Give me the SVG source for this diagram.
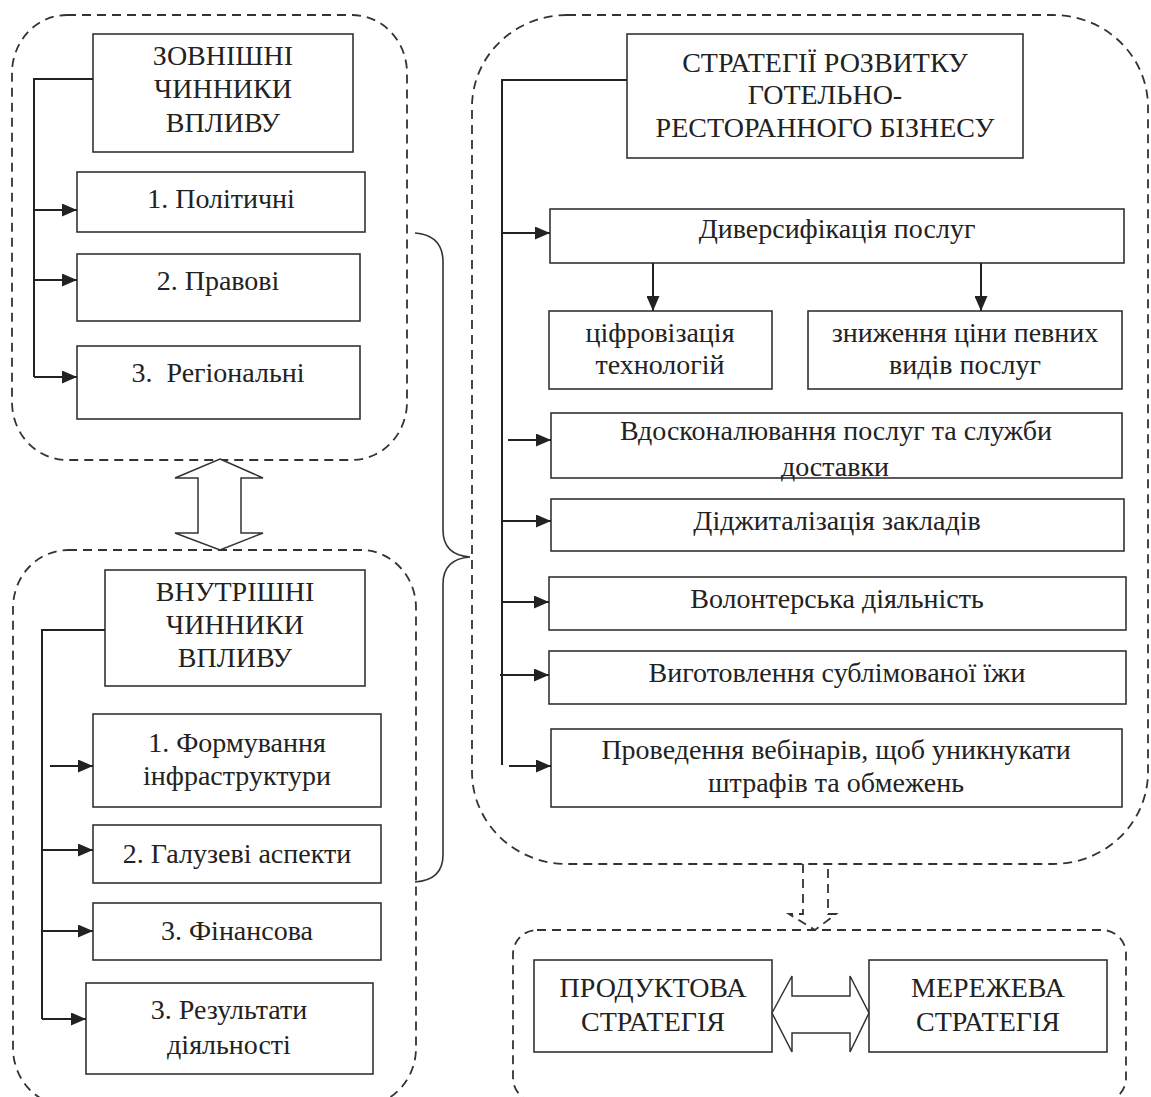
<svg xmlns="http://www.w3.org/2000/svg" width="1151" height="1097" viewBox="0 0 1151 1097">
<style>
  .box { fill: #fff; stroke: #333; stroke-width: 1.6; }
  .dash { fill: none; stroke: #333; stroke-width: 1.8; stroke-dasharray: 9 6; }
  .line { fill: none; stroke: #222; stroke-width: 2; }
  .hollow { fill: #fff; stroke: #333; stroke-width: 1.5; }
  text { font-family: "Liberation Serif", "Times New Roman", serif; font-size: 28px; fill: #222; text-anchor: middle; }
</style>
<defs>
  <marker id="ah" markerUnits="userSpaceOnUse" markerWidth="15" markerHeight="13" refX="15" refY="6.5" orient="auto">
    <path d="M0,0 L15,6.5 L0,13 Z" fill="#222"/>
  </marker>
</defs>
<rect width="1151" height="1097" fill="#fff"/>

<!-- containers -->
<g id="containers">
  <rect class="dash" x="12" y="15" width="395" height="445" rx="55" ry="58"/>
  <rect class="dash" x="13" y="550" width="403" height="556" rx="55" ry="58"/>
  <rect class="dash" x="472" y="15" width="676" height="849" rx="95" ry="92"/>
  <rect class="dash" x="513" y="930" width="613" height="172" rx="24" ry="24"/>
</g>

<!-- left top group -->
<g id="external-title">
  <rect class="box" x="93" y="34" width="260" height="118"/>
  <text x="223" y="65">ЗОВНІШНІ</text>
  <text x="223" y="98">ЧИННИКИ</text>
  <text x="223" y="132">ВПЛИВУ</text>
</g>
<g id="ext-1">
  <rect class="box" x="77" y="172" width="288" height="60"/>
  <text x="221" y="208">1. Політичні</text>
</g>
<g id="ext-2">
  <rect class="box" x="77" y="254" width="283" height="67"/>
  <text x="218" y="290">2. Правові</text>
</g>
<g id="ext-3">
  <rect class="box" x="77" y="346" width="283" height="73"/>
  <text x="218" y="382" xml:space="preserve">3.  Регіональні</text>
</g>

<!-- left bottom group -->
<g id="internal-title">
  <rect class="box" x="105" y="570" width="260" height="116"/>
  <text x="235" y="601">ВНУТРІШНІ</text>
  <text x="235" y="634">ЧИННИКИ</text>
  <text x="235" y="667">ВПЛИВУ</text>
</g>
<g id="int-1">
  <rect class="box" x="93" y="714" width="288" height="93"/>
  <text x="237" y="752">1. Формування</text>
  <text x="237" y="785">інфраструктури</text>
</g>
<g id="int-2">
  <rect class="box" x="93" y="825" width="288" height="58"/>
  <text x="237" y="863">2. Галузеві аспекти</text>
</g>
<g id="int-3">
  <rect class="box" x="93" y="903" width="288" height="57"/>
  <text x="237" y="940">3. Фінансова</text>
</g>
<g id="int-4">
  <rect class="box" x="86" y="983" width="287" height="91"/>
  <text x="229" y="1019">3. Результати</text>
  <text x="229" y="1054">діяльності</text>
</g>

<!-- right group -->
<g id="strategy-title">
  <rect class="box" x="627" y="34" width="396" height="124"/>
  <text x="825" y="72">СТРАТЕГІЇ РОЗВИТКУ</text>
  <text x="825" y="104">ГОТЕЛЬНО-</text>
  <text x="825" y="137">РЕСТОРАННОГО БІЗНЕСУ</text>
</g>
<g id="diversification">
  <rect class="box" x="550" y="209" width="574" height="54"/>
  <text x="837" y="238">Диверсифікація послуг</text>
</g>
<g id="digitization">
  <rect class="box" x="549" y="311" width="223" height="78"/>
  <text x="660" y="342">ціфровізація</text>
  <text x="660" y="374">технологій</text>
</g>
<g id="price-reduction">
  <rect class="box" x="808" y="311" width="314" height="78"/>
  <text x="965" y="342">зниження ціни певних</text>
  <text x="965" y="374">видів послуг</text>
</g>
<g id="delivery">
  <rect class="box" x="551" y="413" width="571" height="65"/>
  <text x="836" y="440">Вдосконалювання послуг та служби</text>
  <text x="835" y="476">доставки</text>
</g>
<g id="digitalization">
  <rect class="box" x="551" y="499" width="573" height="52"/>
  <text x="837" y="530">Діджиталізація закладів</text>
</g>
<g id="volunteer">
  <rect class="box" x="549" y="577" width="577" height="53"/>
  <text x="837" y="608">Волонтерська діяльність</text>
</g>
<g id="food">
  <rect class="box" x="549" y="651" width="577" height="53"/>
  <text x="837" y="682">Виготовлення сублімованої їжи</text>
</g>
<g id="webinars">
  <rect class="box" x="551" y="729" width="571" height="78"/>
  <text x="836" y="759">Проведення вебінарів, щоб уникнукати</text>
  <text x="836" y="792">штрафів та обмежень</text>
</g>

<!-- bottom group -->
<g id="product-strategy">
  <rect class="box" x="534" y="960" width="238" height="92"/>
  <text x="653" y="997">ПРОДУКТОВА</text>
  <text x="653" y="1031">СТРАТЕГІЯ</text>
</g>
<g id="network-strategy">
  <rect class="box" x="869" y="960" width="238" height="92"/>
  <text x="988" y="997">МЕРЕЖЕВА</text>
  <text x="988" y="1031">СТРАТЕГІЯ</text>
</g>

<!-- connectors -->
<g id="connectors">
  <!-- external -->
  <polyline class="line" points="93,79 34,79 34,377"/>
  <line class="line" x1="34" y1="210" x2="77" y2="210" marker-end="url(#ah)"/>
  <line class="line" x1="34" y1="280" x2="77" y2="280" marker-end="url(#ah)"/>
  <line class="line" x1="34" y1="377" x2="77" y2="377" marker-end="url(#ah)"/>
  <!-- internal -->
  <polyline class="line" points="105,630 42,630 42,1019"/>
  <line class="line" x1="50" y1="766" x2="93" y2="766" marker-end="url(#ah)"/>
  <line class="line" x1="42" y1="850" x2="93" y2="850" marker-end="url(#ah)"/>
  <line class="line" x1="42" y1="931" x2="93" y2="931" marker-end="url(#ah)"/>
  <line class="line" x1="42" y1="1019" x2="86" y2="1019" marker-end="url(#ah)"/>
  <!-- strategies -->
  <polyline class="line" points="627,80 502,80 502,765"/>
  <line class="line" x1="502" y1="233" x2="550" y2="233" marker-end="url(#ah)"/>
  <line class="line" x1="653" y1="263" x2="653" y2="311" marker-end="url(#ah)"/>
  <line class="line" x1="981" y1="263" x2="981" y2="311" marker-end="url(#ah)"/>
  <line class="line" x1="508" y1="440" x2="551" y2="440" marker-end="url(#ah)"/>
  <line class="line" x1="502" y1="521" x2="551" y2="521" marker-end="url(#ah)"/>
  <line class="line" x1="502" y1="602" x2="549" y2="602" marker-end="url(#ah)"/>
  <line class="line" x1="500" y1="675" x2="549" y2="675" marker-end="url(#ah)"/>
  <line class="line" x1="509" y1="766" x2="551" y2="766" marker-end="url(#ah)"/>
  <!-- brace -->
  <path fill="none" stroke="#333" stroke-width="1.6" d="M415,233 Q443,235 443,262 L443,530 Q443,555 470,557 Q443,559 443,584 L443,855 Q443,880 415,882"/>
  <!-- hollow double arrows -->
  <path class="hollow" d="M220,459 L263,478 L241,478 L241,533 L263,533 L220,550 L175,533 L198,533 L198,478 L175,478 Z"/>
  <path class="hollow" d="M772,1013 L792,976 L792,996 L850,996 L850,976 L869,1013 L850,1052 L850,1033 L792,1033 L792,1052 Z"/>
  <!-- dashed down arrow -->
  <path class="dash" d="M803,864 L803,914 L789,914 L815,930 L836,914 L828,914 L828,864"/>
</g>
</svg>
